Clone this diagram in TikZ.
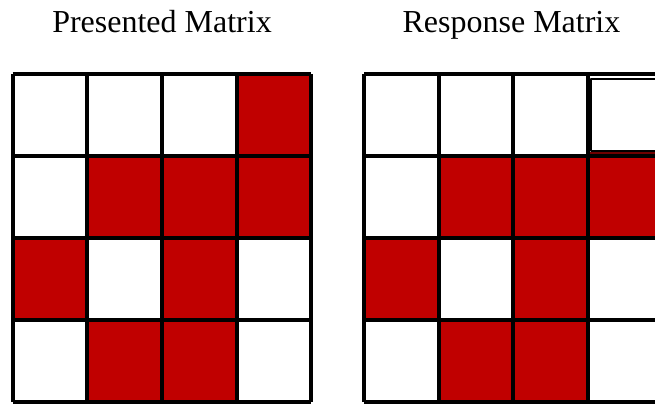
\documentclass[tikz,border=0pt]{standalone}
\usepackage{fontspec}
\setmainfont{Liberation Serif}
\definecolor{cellred}{RGB}{192,0,0}
\definecolor{darkrim}{RGB}{110,0,0}
\tikzset{
  every picture/.style={line join=round},
  gridline/.style={black, line width=4pt},
  oncell/.style={fill=cellred},
  title/.style={font=\fontsize{32}{38}\selectfont, anchor=base},
}
\newcommand{\cw}{74.7}
\newcommand{\ch}{82}

\begin{document}
\begin{tikzpicture}[x=1pt,y=-1pt]
\clip (0,0) rectangle (655,404);
% Titles
\node[title] (ptitle) at (162,33) {Presented Matrix};
\node[title] (rtitle) at (511.5,33) {Response Matrix};

% Presented matrix
\begin{scope}[shift={(12.5,74)}]
\foreach \r/\c in {1/4, 2/2, 2/3, 2/4, 3/1, 3/3, 4/2, 4/3}
  \fill[oncell] ({(\c-1)*\cw},{(\r-1)*\ch}) rectangle ++(\cw,\ch);
\foreach \i in {0,...,4} {
  \draw[gridline] ({\i*\cw},0) -- ({\i*\cw},{4*\ch});
  \draw[gridline] (0,{\i*\ch}) -- ({4*\cw},{\i*\ch});
}
\end{scope}

% Response matrix
\begin{scope}[shift={(364,74)}]
\foreach \r/\c in {2/2, 2/3, 2/4, 3/1, 3/3, 4/2, 4/3}
  \fill[oncell] ({(\c-1)*\cw},{(\r-1)*\ch}) rectangle ++(\cw,\ch);
\foreach \i in {0,...,4} {
  \draw[gridline] ({\i*\cw},0) -- ({\i*\cw},{4*\ch});
  \draw[gridline] (0,{\i*\ch}) -- ({4*\cw},{\i*\ch});
}
% selected cell
\draw[darkrim, line width=2pt] ({3*\cw+2},{\ch-3.2}) -- ({4*\cw+6},{\ch-3.2});
\draw[black, line width=2pt] ({4*\cw+6},4.5) -- ({3*\cw+2.5},4.5) -- ({3*\cw+2.5},{\ch-5.2}) -- ({4*\cw+6},{\ch-5.2});
\end{scope}
\end{tikzpicture}
\end{document}
